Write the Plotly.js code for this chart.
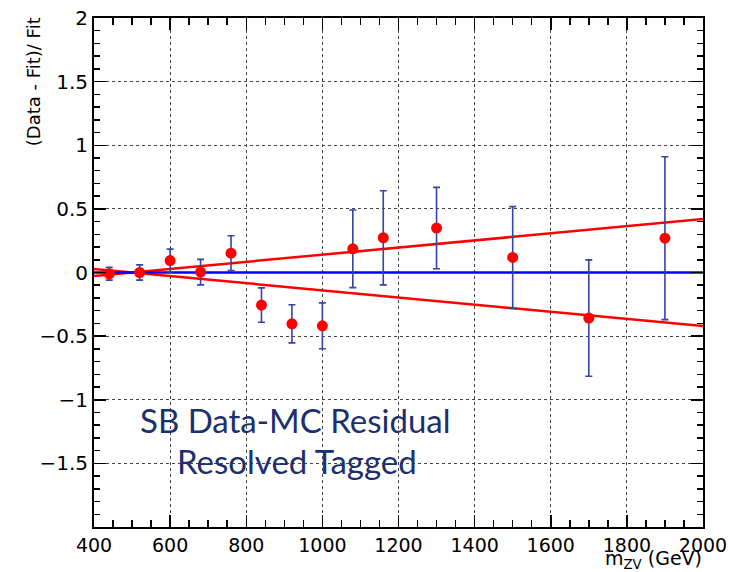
<!DOCTYPE html>
<html>
<head>
<meta charset="utf-8">
<script src="https://cdn.plot.ly/plotly-3.0.1.min.js"></script>
<style>html,body{margin:0;padding:0;background:#fff;}</style>
</head>
<body>
<div id="chart" style="width:732px;height:572px;"></div>
<script>
// Data
const massX = [440, 520, 600, 680, 760, 840, 920, 1000, 1080, 1160, 1300, 1500, 1700, 1900];
const residual = [-0.01, 0.0, 0.094, 0.003, 0.152, -0.256, -0.403, -0.419, 0.186, 0.273, 0.349, 0.118, -0.358, 0.27];
const residualErr = [0.05, 0.06, 0.09, 0.10, 0.137, 0.135, 0.15, 0.18, 0.305, 0.37, 0.32, 0.40, 0.457, 0.64];
const bandX = [400, 2000];
const bandUpper = [-0.028, 0.42];
const bandLower = [0.028, -0.42];
const zeroX = [400, 2000];
const zeroY = [0, 0];
const xTickVals = [400, 600, 800, 1000, 1200, 1400, 1600, 1800, 2000];
const yTickVals = [-1.5, -1, -0.5, 0, 0.5, 1, 1.5, 2];

const traces = [
  {x: bandX, y: bandUpper, mode: 'lines', line: {color: '#ff0000', width: 2.5}, hoverinfo: 'skip'},
  {x: bandX, y: bandLower, mode: 'lines', line: {color: '#ff0000', width: 2.5}, hoverinfo: 'skip'},
  {x: zeroX, y: zeroY, mode: 'lines', line: {color: '#0000ff', width: 2.5}, hoverinfo: 'skip'},
  {x: massX, y: residual, mode: 'markers',
   marker: {color: '#ff0000', size: 11},
   error_y: {type: 'data', array: residualErr, visible: true, color: '#3344aa', thickness: 1.6, width: 3.5}}
];

const axFont = '"DejaVu Sans", "Liberation Sans", Arial, sans-serif';

const layout = {
  width: 732, height: 572,
  margin: {l: 94, r: 29, t: 18, b: 45},
  paper_bgcolor: '#fff', plot_bgcolor: '#fff',
  showlegend: false,
  xaxis: {
    range: [400, 2000], tickvals: xTickVals, ticktext: xTickVals.map(String),
    ticks: 'inside', ticklen: 12, tickwidth: 1.5, tickcolor: '#000',
    showline: true, linecolor: '#000', linewidth: 2, mirror: 'allticks',
    showgrid: true, gridcolor: '#444', griddash: 'dot', gridwidth: 1,
    zeroline: false, tickfont: {family: axFont, size: 19, color: '#000'},
    minor: {dtick: 50, ticks: 'inside', ticklen: 7, tickwidth: 1.5, tickcolor: '#000', showgrid: false}
  },
  yaxis: {
    range: [-2, 2], tickvals: yTickVals,
    ticks: 'inside', ticklen: 12, tickwidth: 1.5, tickcolor: '#000',
    showline: true, linecolor: '#000', linewidth: 2, mirror: 'allticks',
    showgrid: true, gridcolor: '#444', griddash: 'dot', gridwidth: 1,
    zeroline: false, tickfont: {family: axFont, size: 20, color: '#000'},
    minor: {dtick: 0.1, ticks: 'inside', ticklen: 6, tickwidth: 1.5, tickcolor: '#000', showgrid: false}
  },
  annotations: [
    {xref: 'paper', yref: 'paper', x: -0.100, y: 0.874, textangle: -90,
     text: '(Data - Fit)/ Fit', showarrow: false, xanchor: 'center', yanchor: 'middle',
     font: {family: axFont, size: 18, color: '#000'}},
    {xref: 'paper', yref: 'paper', x: 1, y: -0.063, xanchor: 'right', yanchor: 'middle', borderpad: 0,
     text: 'm<sub>ZV</sub> (GeV)', showarrow: false,
     font: {family: axFont, size: 19, color: '#000'}},
    {xref: 'paper', yref: 'paper', x: 0.330, y: 0.210, xanchor: 'center', yanchor: 'middle',
     text: 'SB Data-MC Residual', showarrow: false,
     font: {family: 'Lato, "Open Sans", sans-serif', size: 33, color: '#1c2f6e'}},
    {xref: 'paper', yref: 'paper', x: 0.333, y: 0.129, xanchor: 'center', yanchor: 'middle',
     text: 'Resolved Tagged', showarrow: false,
     font: {family: 'Lato, "Open Sans", sans-serif', size: 33, color: '#1c2f6e'}}
  ]
};

Plotly.newPlot('chart', traces, layout, {displayModeBar: false, staticPlot: true});
</script>
</body>
</html>
